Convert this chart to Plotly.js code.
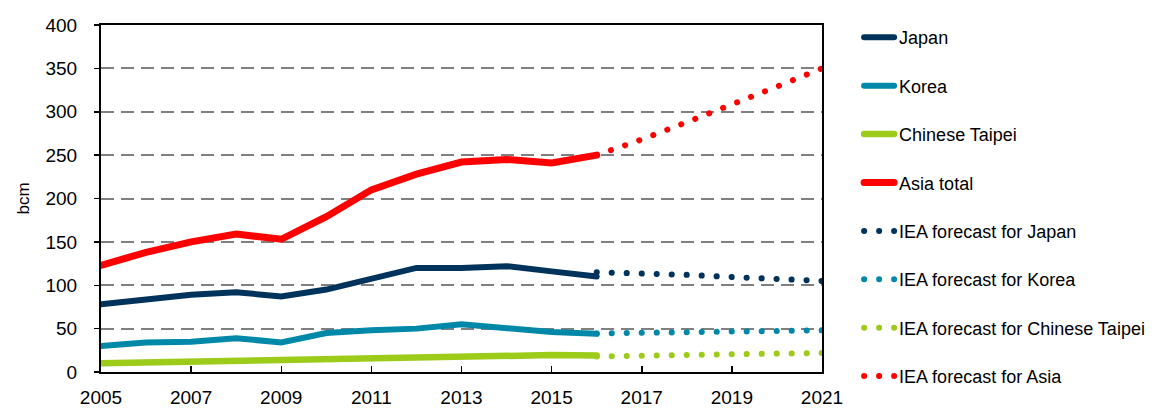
<!DOCTYPE html>
<html>
<head>
<meta charset="utf-8">
<script src="https://cdn.plot.ly/plotly-3.0.1.min.js"></script>
<style>
  body { margin: 0; background: #fff; }
  #chart { width: 1161px; height: 410px; }
  .scatterlayer .js-line, .legendlines path { stroke-linecap: round !important; }
</style>
</head>
<body>
<div id="chart"></div>
<script>
// Historical data
const yearsHist = [2005, 2006, 2007, 2008, 2009, 2010, 2011, 2012, 2013, 2014, 2015, 2016];
const japan = [78, 84, 89, 92, 87, 95, 108, 120, 120, 122, 116, 110];
const korea = [30, 34, 35, 39, 34, 45, 48, 50, 55, 51, 46, 44];
const taipei = [10, 11, 12, 13, 13, 15, 16.5, 17, 17, 18, 19.5, 19];
const asiaTotal = [123, 138, 150, 159, 153, 179, 210, 228, 242, 245, 241, 250];

// IEA forecasts
const yearsFc = [2016, 2017, 2018, 2019, 2020, 2021];
const japanFc = [115, 114, 112, 109.5, 107, 105];
const koreaFc = [44.5, 45, 46, 46.5, 47, 48];
const taipeiFc = [18, 19, 19.5, 20, 21, 22];
const asiaFc = [250, 268, 288, 308, 329, 350];

const xTicks = [2005, 2007, 2009, 2011, 2013, 2015, 2017, 2019, 2021];
const yTicks = [0, 50, 100, 150, 200, 250, 300, 350, 400];

const cJapan = '#00335B';
const cKorea = '#0088A9';
const cTaipei = '#9CCB19';
const cAsia = '#FF0000';

function solid(name, x, y, color, w, g) {
  return { type: 'scatter', mode: 'lines', name: name, x: x, y: y,
    legendgroup: g, line: { color: color, width: w }, hoverinfo: 'skip' };
}
function dotted(name, x, y, color, w, g) {
  return { type: 'scatter', mode: 'lines', name: name, x: x, y: y,
    legendgroup: g, line: { color: color, width: w, dash: '0.1px,14.9px' }, hoverinfo: 'skip' };
}

const traces = [
  solid('Japan', yearsHist, japan, cJapan, 6, 'a'),
  solid('Korea', yearsHist, korea, cKorea, 6, 'b'),
  solid('Chinese Taipei', yearsHist, taipei, cTaipei, 6.5, 'c'),
  solid('Asia total', yearsHist, asiaTotal, cAsia, 7, 'd'),
  dotted('IEA forecast for Japan', yearsFc, japanFc, cJapan, 6, 'e'),
  dotted('IEA forecast for Korea', yearsFc, koreaFc, cKorea, 6, 'f'),
  dotted('IEA forecast for Chinese Taipei', yearsFc, taipeiFc, cTaipei, 6, 'g'),
  dotted('IEA forecast for Asia', yearsFc, asiaFc, cAsia, 6, 'h')
];

const tickFont = { family: 'Liberation Sans, Arial, sans-serif', size: 19, color: '#000' };
const legFont = { family: 'Liberation Sans, Arial, sans-serif', size: 18, color: '#000' };
const titleFont = { family: 'Liberation Sans, Arial, sans-serif', size: 17, color: '#000' };

const layout = {
  width: 1161, height: 410,
  margin: { l: 101, r: 338, t: 25, b: 38 },
  paper_bgcolor: '#fff', plot_bgcolor: '#fff',
  font: legFont,
  showlegend: true,
  legend: {
    x: 1.05, xanchor: 'left', y: 1.017, yanchor: 'top',
    traceorder: 'grouped', tracegroupgap: 22, maxheight: 400,
    font: legFont, bgcolor: 'rgba(0,0,0,0)', itemwidth: 30
  },
  xaxis: {
    range: [2005, 2021], tickvals: xTicks, ticktext: xTicks.map(String),
    showgrid: false, zeroline: false,
    showline: true, linecolor: '#000', linewidth: 2, mirror: true,
    ticks: 'inside', ticklen: 6, tickwidth: 1.5, tickcolor: '#000',
    ticklabelstandoff: 7,
    tickfont: tickFont
  },
  yaxis: {
    range: [0, 400], tickvals: yTicks, ticktext: yTicks.map(String),
    title: { text: 'bcm', font: titleFont, standoff: 12 },
    showgrid: true, gridcolor: '#808080', gridwidth: 2, griddash: '13px,7px',
    zeroline: false,
    showline: true, linecolor: '#000', linewidth: 2, mirror: true,
    ticks: 'outside', ticklen: 5, tickwidth: 1.5, tickcolor: '#000',
    ticklabelstandoff: 13,
    tickfont: tickFont
  }
};

Plotly.newPlot('chart', traces, layout, { displayModeBar: false, staticPlot: true });
</script>
</body>
</html>
